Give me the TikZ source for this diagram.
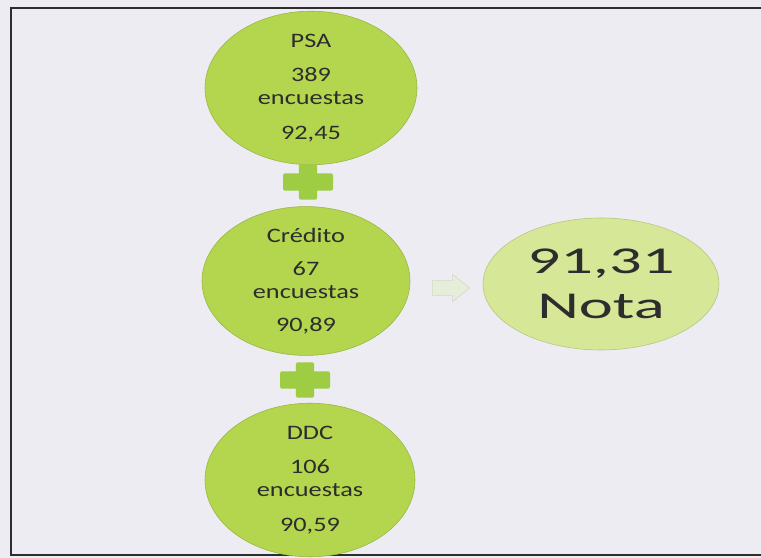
\documentclass[tikz,border=0pt]{standalone}
\usepackage{fontspec}
\setmainfont{Carlito}
\newfontfamily\anchapeq[FakeStretch=1.28]{Carlito}
\newfontfamily\anchagran[FakeStretch=1.7]{Carlito}
\usetikzlibrary{shapes.geometric}
\definecolor{fondo}{RGB}{236,236,242}
\definecolor{verde}{RGB}{180,213,78}
\definecolor{verdeclaro}{RGB}{214,231,152}
\definecolor{verdemas}{RGB}{158,204,66}
\definecolor{flechafill}{RGB}{230,238,218}
\definecolor{texto}{RGB}{45,45,45}
\tikzset{
  parte/.style={ellipse, fill=verde, draw=verde!85!black, line width=0.4pt,
    minimum width=5.3cm, minimum height=3.35cm, inner sep=0pt,
    align=center, text=texto, font=\anchapeq\fontsize{14.6}{16.3}\selectfont},
  total/.style={ellipse, fill=verdeclaro, draw=verdeclaro!85!black, line width=0.4pt,
    minimum width=5.9cm, minimum height=3.3cm, inner sep=0pt,
    align=center, text=texto, font=\anchagran\fontsize{27}{32}\selectfont},
  mas/.style={fill=verdemas, rounded corners=1pt},
  flecha/.style={fill=flechafill, draw=flechafill!80!gray, line width=0.4pt}
}
\begin{document}
\begin{tikzpicture}
  \useasboundingbox (0,0) rectangle (19.025,13.95);
  \fill[fondo] (0,0) rectangle (19.025,13.95);
  % marco
  \draw[line width=1.4pt, texto] (19.025,13.75) -- (0.275,13.75) -- (0.275,0.075) -- (19.025,0.075);
  % elipses
  \node[parte] (psa) at (7.775,11.75) {PSA\\[8pt] 389\\ encuestas\\[9pt] 92,45};
  \node[parte, minimum width=5.2cm, minimum height=3.4cm] (credito) at (7.65,6.925) {Crédito\\[7pt] 67\\ encuestas\\[7pt] 90,89};
  \node[parte, minimum width=5.25cm] (ddc) at (7.75,1.95) {DDC\\[8pt] 106\\ encuestas\\[9pt] 90,59};
  \node[total] (nota) at (15.025,6.85) {91,31\\ Nota};
  % signos
  \coordinate (mas1) at (7.7,9.4);
  \coordinate (mas2) at (7.625,4.45);
  \fill[mas, shift={(mas1)}] (-0.625,-0.215) rectangle (0.625,0.215) (-0.23,-0.44) rectangle (0.23,0.44);
  \fill[mas, shift={(mas2)}] (-0.625,-0.215) rectangle (0.625,0.215) (-0.23,-0.44) rectangle (0.23,0.44);
  \coordinate (igual) at (11.275,6.75);
  \filldraw[flecha, shift={(igual)}] (-0.46,-0.19) -- (0.04,-0.19) -- (0.04,-0.34) -- (0.46,0)
    -- (0.04,0.34) -- (0.04,0.19) -- (-0.46,0.19) -- cycle;
\end{tikzpicture}
\end{document}
